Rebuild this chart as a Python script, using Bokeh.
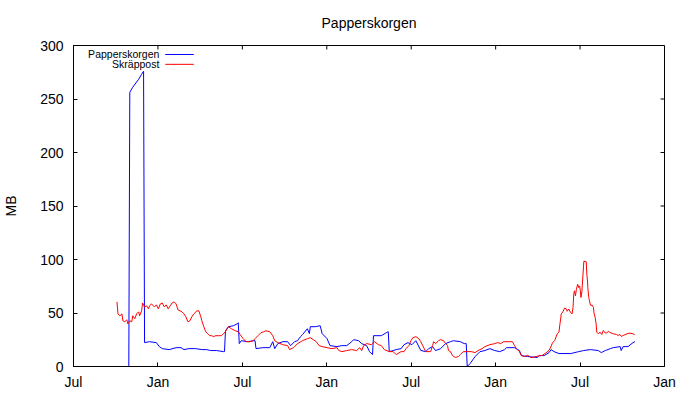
from bokeh.plotting import figure
from bokeh.models import FixedTicker, Range1d, Label, Arrow
from bokeh.embed import file_html
from bokeh.resources import INLINE

# x: months since July of the first year; y: MB
tick_months = [0, 6, 12, 18, 24, 30, 36, 42]
tick_labels = ["Jul", "Jan", "Jul", "Jan", "Jul", "Jan", "Jul", "Jan"]
y_ticks = [0, 50, 100, 150, 200, 250, 300]

papperskorgen_m = [3.02, 3.93, 4.00, 4.21, 4.63, 4.84, 4.98, 5.05, 5.40, 5.89, 6.10, 6.31, 6.80, 7.29, 7.64,
                   7.85, 8.20, 8.69, 9.12, 9.47, 9.75, 10.17, 10.66, 10.73, 10.80, 11.01, 11.36, 11.64, 11.71,
                   11.78, 11.92, 12.41, 12.76, 12.90, 12.97, 13.46, 13.95, 14.16, 14.30, 14.52, 14.87, 15.22,
                   15.43, 15.71, 15.92, 16.13, 16.27, 16.62, 16.76, 16.83, 17.18, 17.53, 17.67, 18.02, 18.23,
                   18.72, 19.07, 19.42, 19.77, 19.91, 20.26, 20.48, 20.83, 21.04, 21.25, 21.32, 21.88, 22.23,
                   22.37, 22.44, 22.72, 22.93, 23.28, 23.49, 23.77, 24.05, 24.33, 24.68, 25.03, 25.24, 25.52,
                   25.73, 26.09, 26.44, 26.79, 27.00, 27.49, 27.77, 27.91, 27.98, 28.19, 28.54, 28.89, 29.24,
                   29.59, 29.94, 30.29, 30.64, 30.78, 31.34, 31.69, 31.83, 32.26, 32.96, 33.10, 33.45, 33.80,
                   33.94, 34.15, 34.50, 35.34, 35.90, 36.25, 36.74, 37.30, 37.51, 37.79, 38.15, 38.36, 38.85,
                   38.92, 39.06, 39.41, 39.76, 39.90]
papperskorgen_mb = [0, 0, 256.3, 261.0, 268.4, 273.1, 275.9, 22.3, 23.2, 22.3, 18.6, 16.7, 15.8, 17.6, 17.6,
                    15.8, 16.7, 16.7, 15.8, 15.8, 14.9, 14.9, 13.9, 13.9, 33.4, 37.2, 38.1, 39.9, 40.9,
                    21.4, 24.1, 23.2, 24.1, 24.1, 16.7, 17.6, 17.6, 23.2, 16.7, 21.4, 23.2, 23.2,
                    19.5, 23.2, 24.1, 27.9, 29.7, 35.3, 30.7, 37.2, 37.2, 38.1, 30.7, 26.0, 19.5,
                    18.6, 19.5, 19.5, 23.2, 25.1, 24.1, 21.4, 19.5, 13.9, 11.1, 28.8, 28.8, 31.6,
                    32.5, 13.9, 14.9, 15.8, 16.7, 20.4, 22.3, 20.4, 24.1, 15.0, 13.9, 16.7, 18.6,
                    14.9, 16.7, 21.4, 23.2, 24.1, 23.2, 21.4, 21.4, 0, 2.8, 9.3, 13.9, 14.9,
                    16.7, 14.9, 13.9, 15.8, 17.6, 17.6, 14.9, 10.2, 9.3, 8.4, 10.2, 10.2, 13.0,
                    15.8, 13.9, 12.1, 12.1, 13.9, 14.9, 15.8, 14.9, 13.0, 14.9, 16.7, 17.6, 18.6,
                    14.9, 18.6, 18.6, 22.3, 23.2]

skrappost_m = [3.09, 3.16, 3.30, 3.44, 3.51, 3.65, 3.79, 3.86, 4.00, 4.14, 4.21, 4.35, 4.49, 4.63, 4.70,
               4.84, 4.91, 5.05, 5.19, 5.33, 5.40, 5.54, 5.75, 5.89, 6.03, 6.17, 6.31, 6.45, 6.59, 6.73,
               6.87, 7.01, 7.15, 7.29, 7.43, 7.57, 7.71, 7.85, 7.99, 8.13, 8.27, 8.41, 8.55, 8.77, 8.91,
               9.05, 9.12, 9.26, 9.40, 9.54, 9.68, 9.82, 9.96, 10.10, 10.31, 10.52, 10.66, 10.80, 11.01,
               11.22, 11.50, 11.71, 11.85, 12.06, 12.27, 12.55, 12.76, 12.90, 13.11, 13.32, 13.53, 13.67,
               13.95, 14.16, 14.30, 14.52, 14.87, 15.22, 15.36, 15.64, 15.92, 16.27, 16.62, 16.83, 17.04,
               17.25, 17.46, 17.67, 18.02, 18.37, 18.72, 18.86, 19.07, 19.42, 19.77, 20.12, 20.34, 20.48,
               20.62, 20.83, 21.18, 21.39, 21.67, 21.88, 22.09, 22.44, 22.72, 22.93, 23.28, 23.49, 23.63,
               23.84, 23.98, 24.12, 24.33, 24.54, 24.68, 24.82, 25.03, 25.38, 25.52, 25.59, 25.73, 25.94,
               26.09, 26.30, 26.44, 26.58, 26.65, 26.79, 26.93, 27.14, 27.35, 27.49, 27.70, 28.26, 28.54,
               28.75, 29.03, 29.24, 29.59, 29.94, 30.15, 30.36, 30.57, 30.99, 31.20, 31.34, 31.48, 31.69,
               31.83, 32.05, 32.28, 32.51, 32.98, 33.33, 33.57, 33.80, 33.92, 34.03, 34.20, 34.38, 34.50,
               34.57, 34.62, 34.66, 34.80, 34.90, 35.04, 35.08, 35.20, 35.32, 35.43, 35.50, 35.55, 35.60,
               35.67, 35.74, 35.83, 35.90, 35.97, 36.02, 36.06, 36.13, 36.20, 36.27, 36.44, 36.48, 36.53,
               36.55, 36.62, 36.67, 36.72, 36.79, 36.83, 36.95, 37.00, 37.07, 37.14, 37.19, 37.30, 37.42,
               37.54, 37.65, 37.77, 37.89, 38.01, 38.12, 38.36, 38.59, 38.71, 38.83, 38.94, 39.06, 39.34,
               39.53, 39.76, 39.88]
skrappost_mb = [60.4, 49.2, 47.4, 49.2, 42.7, 41.8, 43.7, 39.9, 42.7, 41.8, 47.4, 44.6, 49.2, 51.1, 47.4,
                52.0, 59.4, 55.7, 56.7, 53.9, 56.7, 58.5, 55.7, 57.6, 53.9, 58.5, 59.4, 55.7, 57.6, 53.9,
                56.7, 59.4, 60.4, 58.5, 52.9, 52.0, 51.1, 49.2, 46.4, 41.8, 42.7, 46.4, 49.2, 52.0, 52.0,
                46.4, 42.7, 37.2, 32.5, 30.7, 28.8, 28.8, 27.9, 28.8, 28.8, 28.8, 30.7, 32.5, 37.2,
                35.3, 33.4, 32.5, 29.7, 26.0, 23.2, 23.2, 24.1, 26.0, 28.8, 31.6, 32.5, 33.4,
                32.5, 28.8, 24.1, 22.3, 20.4, 19.5, 15.8, 17.6, 21.4, 24.1, 26.0, 26.9, 25.1,
                23.2, 19.5, 18.6, 17.6, 16.7, 17.6, 14.9, 13.9, 14.9, 15.8, 14.9, 17.6, 14.9,
                19.5, 21.4, 20.4, 23.2, 20.4, 19.5, 15.8, 13.9, 13.9, 11.1, 13.9, 13.9, 16.7,
                19.5, 24.1, 26.9, 27.9, 26.0, 23.2, 19.5, 13.9, 13.9, 19.5, 23.2, 21.4, 24.1,
                25.1, 24.1, 21.4, 19.5, 14.9, 13.9, 10.2, 8.4, 9.3, 11.1, 13.9, 13.9, 13.0,
                14.9, 16.7, 18.6, 20.4, 21.4, 22.3, 21.4, 23.2, 23.2, 23.2, 19.5, 16.7, 13.9,
                10.2, 9.3, 10.5, 8.3, 9.6, 10.5, 12.7, 15.1, 18.2, 21.9, 24.4, 30.6, 32.1,
                39.8, 44.4, 49.1, 51.6, 54.6, 53.7, 51.6, 53.7, 50.6, 49.1, 55.3, 67.6, 70.7,
                66.0, 72.2, 76.9, 73.8, 75.3, 70.7, 64.5, 70.1, 84.5, 98.4, 97.9, 86.1, 79.9,
                73.8, 64.5, 61.4, 58.3, 56.8, 57.7, 55.3, 49.1, 46.0, 39.8, 32.1, 30.6, 32.1,
                29.9, 33.6, 31.5, 31.2, 33.0, 31.8, 30.6, 29.9, 29.0, 29.9, 28.1, 29.0, 30.6,
                31.2, 30.6, 29.6]

FONT = "Liberation Sans"
X0, X1, Y0, Y1 = 0, 42, 0, 300

p = figure(width=690, height=392, output_backend="svg", toolbar_location=None,
           x_range=Range1d(X0, X1), y_range=Range1d(Y0, Y1),
           min_border_left=65, min_border_right=26, min_border_top=45, min_border_bottom=24,
           title="Papperskorgen")
p.title.align = "center"
p.title.offset = -5
p.title.text_font = FONT
p.title.text_font_size = "14px"
p.title.text_font_style = "normal"
p.title.text_color = "black"
p.title.vertical_align = "top"
p.title.standoff = 26

p.grid.visible = False
p.outline_line_color = "black"
p.outline_line_alpha = 1
p.background_fill_color = "white"
p.border_fill_color = "white"

for ax in (p.xaxis[0], p.yaxis[0]):
    ax.major_tick_in = 4
    ax.major_tick_out = 0
    ax.minor_tick_in = 0
    ax.minor_tick_out = 0
    ax.axis_line_color = "black"
    ax.major_tick_line_color = "black"
    ax.major_label_text_font = FONT
    ax.major_label_text_font_size = "14px"
    ax.major_label_text_color = "black"

p.xaxis.ticker = FixedTicker(ticks=tick_months)
p.xaxis.major_label_overrides = {m: lab for m, lab in zip(tick_months, tick_labels)}
p.xaxis.major_label_standoff = 7

p.yaxis.ticker = FixedTicker(ticks=y_ticks)
p.yaxis.major_label_standoff = 10
p.yaxis.axis_label = "MB"
p.yaxis.axis_label_text_font = FONT
p.yaxis.axis_label_text_font_size = "14px"
p.yaxis.axis_label_text_font_style = "normal"
p.yaxis.axis_label_text_color = "black"
p.yaxis.axis_label_standoff = 18

frame_w, frame_h = 599, 323
px_y = (Y1 - Y0) / frame_h
px_x = (X1 - X0) / frame_w

# mirrored inward ticks on the top and right borders (4 px long)
p.segment(x0=tick_months, y0=[Y1] * len(tick_months), x1=tick_months, y1=[Y1 - 4 * px_y] * len(tick_months),
          line_color="black", line_width=1)
p.segment(x0=[X1] * len(y_ticks), y0=y_ticks, x1=[X1 - 4 * px_x] * len(y_ticks), y1=y_ticks,
          line_color="black", line_width=1)

p.line(papperskorgen_m, papperskorgen_mb, line_color="#0000ff", line_width=1)
p.line(skrappost_m, skrappost_mb, line_color="#ff0000", line_width=1)

# gnuplot-style key: label on the left, sample on the right
for name, color, ky in [("Papperskorgen", "#0000ff", 291.6), ("Skräppost", "#ff0000", 282.4)]:
    p.add_layout(Label(x=6.1, y=ky, text=name, text_align="right", text_baseline="middle",
                       text_font=FONT, text_font_size="10.5px", text_color="black"))
    p.add_layout(Arrow(end=None, x_start=6.52, y_start=ky, x_end=8.55, y_end=ky,
                       line_color=color, line_width=1))

open("out.html", "w").write(file_html(p, INLINE))
